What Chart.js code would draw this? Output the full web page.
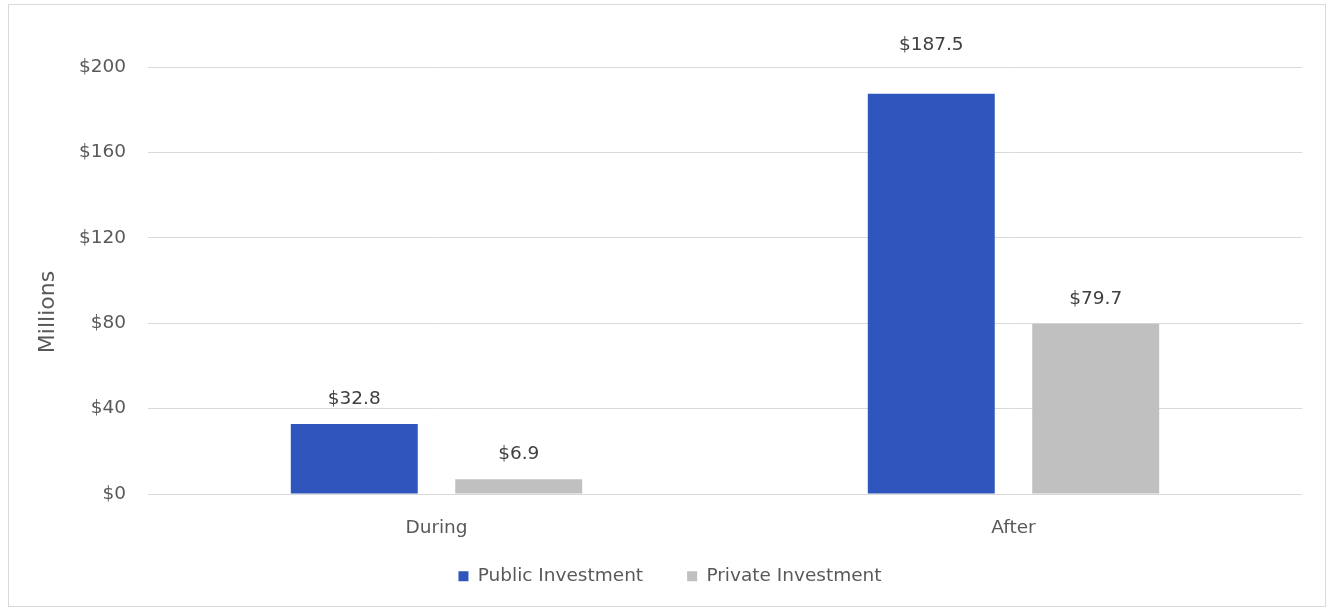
<!DOCTYPE html>
<html>
<head>
<meta charset="utf-8">
<script src="https://cdn.jsdelivr.net/npm/chart.js@4/dist/chart.umd.min.js"></script>
<style>
  html, body { margin: 0; padding: 0; background: #fff; }
  #wrap { position: relative; width: 1330px; height: 611px; }
  #frame { position: absolute; left: 8px; top: 4px; width: 1318px; height: 603px;
           border: 1px solid #d9d9d9; box-sizing: border-box; pointer-events: none; }
</style>
</head>
<body>
<div id="wrap">
  <canvas id="chart" width="1330" height="611"></canvas>
  <div id="frame"></div>
</div>
<script>
// Investissement public / privé, en millions de dollars
const periods = ['During', 'After'];
const publicInvestment = [32.8, 187.5];
const privateInvestment = [6.9, 79.7];
const yTicks = [0, 40, 80, 120, 160, 200];

const FONT = 'DejaVu Sans';
const FONT_SIZE = 18.5;
const textGray = '#595959';

// étiquettes de valeur au-dessus des barres
const valueLabels = {
    id: 'valueLabels',
    afterDatasetsDraw(chart, args, opts) {
        const ctx = chart.ctx;
        ctx.save();
        ctx.font = opts.size + 'px "' + FONT + '"';
        ctx.fillStyle = opts.color;
        ctx.textAlign = 'center';
        ctx.textBaseline = 'middle';
        chart.data.datasets.forEach((ds, di) => {
            chart.getDatasetMeta(di).data.forEach((bar, i) => {
                const lift = (opts.lift[di + ':' + i]) || opts.offset;
                ctx.fillText('$' + ds.data[i].toFixed(1), bar.x, bar.y - lift);
            });
        });
        ctx.restore();
    }
};

// titre de l'axe vertical
const axisTitle = {
    id: 'axisTitle',
    afterDraw(chart, args, opts) {
        const ctx = chart.ctx;
        ctx.save();
        ctx.translate(opts.x, opts.y);
        ctx.rotate(-Math.PI / 2);
        ctx.font = opts.size + 'px "' + FONT + '"';
        ctx.fillStyle = textGray;
        ctx.textAlign = 'center';
        ctx.textBaseline = 'middle';
        ctx.fillText(opts.text, 0, 0);
        ctx.restore();
    }
};

// remonte la légende sous les libellés de l'axe x
const legendLift = {
    id: 'legendLift',
    afterLayout(chart, args, opts) {
        const lg = chart.legend;
        if (!lg) return;
        lg.top -= opts.by;
        lg.bottom -= opts.by;
    }
};

const config = {
    type: 'bar',
    data: {
        labels: periods,
        datasets: [{
            label: 'Public Investment',
            data: publicInvestment,
            backgroundColor: '#2f56bd',
            categoryPercentage: 0.57,
            barPercentage: 0.772
        }, {
            label: 'Private Investment',
            data: privateInvestment,
            backgroundColor: '#c0c0c0',
            categoryPercentage: 0.57,
            barPercentage: 0.772
        }]
    },
    options: {
        responsive: false,
        animation: false,
        layout: { padding: { top: 67, right: 28, bottom: -5.5, left: 38 } },
        scales: {
            x: {
                grid: { display: false },
                border: { display: false },
                ticks: { color: textGray, font: { family: FONT, size: FONT_SIZE }, padding: 15 },
                afterFit(scale) { scale.height = 50; }
            },
            y: {
                min: 0,
                max: 200,
                afterBuildTicks(scale) { scale.ticks = yTicks.map(v => ({ value: v })); },
                grid: { color: '#d9d9d9', drawTicks: false },
                border: { display: false },
                ticks: {
                    color: textGray,
                    font: { family: FONT, size: FONT_SIZE },
                    padding: 22,
                    callback: v => '$' + v
                },
                afterFit(scale) { scale.width = 110; }
            }
        },
        plugins: {
            legend: {
                position: 'bottom',
                labels: {
                    color: textGray,
                    font: { family: FONT, size: FONT_SIZE },
                    boxWidth: 10,
                    boxHeight: 10,
                    padding: 44
                }
            },
            tooltip: { enabled: false },
            legendLift: { by: 21 },
            valueLabels: { size: FONT_SIZE, color: '#404040', offset: 25, lift: { '0:1': 49 } },
            axisTitle: { text: 'Millions', x: 48, y: 312, size: 22 }
        }
    },
    plugins: [valueLabels, axisTitle, legendLift]
};

new Chart(document.getElementById('chart'), config);
</script>
</body>
</html>
